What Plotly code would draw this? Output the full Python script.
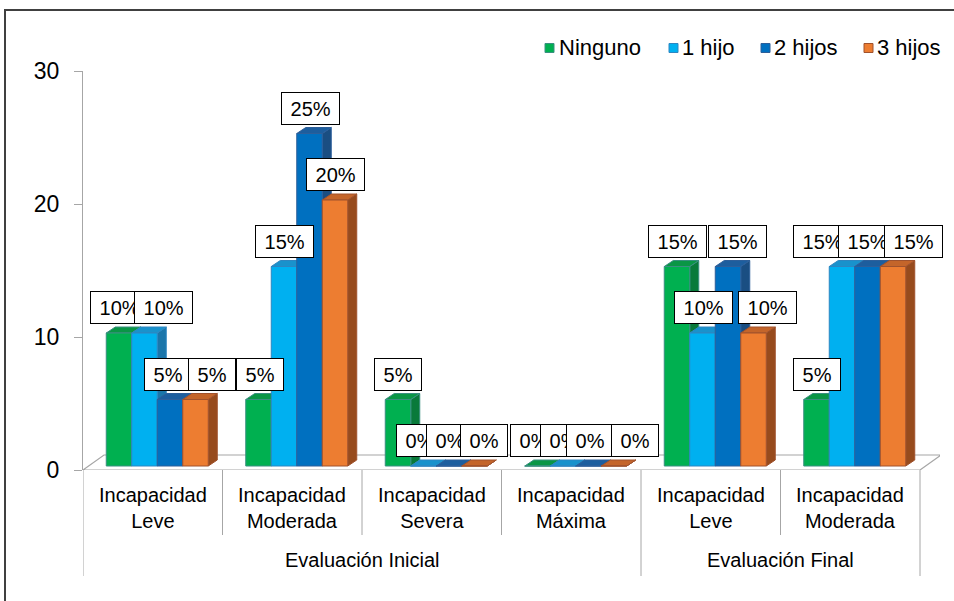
import plotly.graph_objects as go

# ---------------------------------------------------------------- data
stage_labels = ["Evaluación Inicial", "Evaluación Final"]
stage_spans = [(0, 3), (4, 5)]          # first / last level index of each stage
level_labels = [
    "Incapacidad<br>Leve", "Incapacidad<br>Moderada", "Incapacidad<br>Severa",
    "Incapacidad<br>Máxima", "Incapacidad<br>Leve", "Incapacidad<br>Moderada",
]
series_names = ["Ninguno", "1 hijo", "2 hijos", "3 hijos"]
ninguno = [10, 5, 5, 0, 15, 5]
un_hijo = [10, 15, 0, 0, 10, 15]
dos_hijos = [5, 25, 0, 0, 15, 15]
tres_hijos = [5, 20, 0, 0, 10, 15]
y_tick_values = [0, 10, 20, 30]

series_values = [ninguno, un_hijo, dos_hijos, tres_hijos]

# ---------------------------------------------------------------- styling
W, H = 954, 601
PLOT_L, PLOT_R, PLOT_T, PLOT_B = 83, 940, 71, 470
CAT_PX = 139.5                      # width of one category on screen
Y_MAX = 30
PX_PER_Y = (PLOT_B - PLOT_T) / Y_MAX
X_MIN = -0.5
X_MAX = X_MIN + (PLOT_R - PLOT_L) / CAT_PX

FONT = "Liberation Sans, Arial, sans-serif"
AXIS_GREY = "#A6A6A6"

# front / top / side / edge colours per series
face_colors = [
    ("#00B050", "#0A9646", "#097A3A", "#3A8F80"),
    ("#00B0F0", "#1992CC", "#1B76AA", "#2E86C1"),
    ("#0070C0", "#1D5E9E", "#1A4E82", "#2D5F9A"),
    ("#ED7D31", "#C4652A", "#974B1D", "#A0522D"),
]

# pseudo-3D geometry, expressed in axis units
BAR_W = 25.5 / CAT_PX
GROUP_SHIFT = 4.5 / CAT_PX
BASE = 4 / PX_PER_Y
DX = 9 / CAT_PX
DY = 6 / PX_PER_Y
FLOOR_DX = 21 / CAT_PX
FLOOR_DY = 15 / PX_PER_Y

# small horizontal nudges (px) applied to the value boxes
label_nudge = [
    [0, 19, -2, 16],
    [1, 0, 1, 0],
    [0, -4, 1, 9],
    [-4, 1, 1, 21],
    [0, 1, 9, 14],
    [0, -20, 0, 20],
]


def px_x(px):
    return (px - PLOT_L) / (PLOT_R - PLOT_L)


def px_y(py):
    return (PLOT_B - py) / (PLOT_B - PLOT_T)


n_levels = len(level_labels)
fig = go.Figure()

# floor of the 3D plot
n_last = n_levels - 0.5
fig.add_trace(go.Scatter(
    x=[X_MIN, n_last, n_last + FLOOR_DX, X_MIN + FLOOR_DX, X_MIN],
    y=[0, 0, FLOOR_DY, FLOOR_DY, 0],
    mode="lines", fill="toself", fillcolor="white",
    line=dict(color=AXIS_GREY, width=1.2), hoverinfo="skip", showlegend=False,
))


def bar_left(i, j):
    return i + GROUP_SHIFT + (j - 2) * BAR_W


# columns: for each series draw side, top and front faces (left to right so
# that each column hides the side of its left neighbour)
for j, (name, vals) in enumerate(zip(series_names, series_values)):
    front_c, top_c, side_c, edge_c = face_colors[j]
    fx, fy, tx, ty, sx, sy = [], [], [], [], [], []
    for i, v in enumerate(vals):
        x0 = bar_left(i, j)
        x1 = x0 + BAR_W
        y0 = BASE
        y1 = BASE + v
        sx += [x1, x1 + DX, x1 + DX, x1, x1, None]
        sy += [y0, y0 + DY, y1 + DY, y1, y0, None]
        tx += [x0, x1, x1 + DX, x0 + DX, x0, None]
        ty += [y1, y1, y1 + DY, y1 + DY, y1, None]
        fx += [x0, x1, x1, x0, x0, None]
        fy += [y0, y0, y1, y1, y0, None]
    for xs, ys, col in ((sx, sy, side_c), (tx, ty, top_c), (fx, fy, front_c)):
        fig.add_trace(go.Scatter(
            x=xs, y=ys, mode="lines", fill="toself", fillcolor=col,
            line=dict(color=edge_c, width=1), name=name,
            hoverinfo="skip", showlegend=False,
        ))

annotations = []
shapes = []

# value boxes
for i in range(n_levels):
    for j, vals in enumerate(series_values):
        v = vals[i]
        annotations.append(dict(
            x=bar_left(i, j) + BAR_W / 2, y=BASE + v, xref="x", yref="y",
            text="\u00a0%d%%\u00a0" % v, showarrow=False,
            xanchor="center", yanchor="bottom", yshift=9,
            xshift=label_nudge[i][j], height=25,
            font=dict(family=FONT, size=20, color="black"),
            bgcolor="white", bordercolor="black", borderwidth=1, borderpad=3,
        ))

# category labels (two levels)
for i, lab in enumerate(level_labels):
    annotations.append(dict(
        x=i, y=px_y(508), xref="x", yref="paper", text=lab, showarrow=False,
        xanchor="center", yanchor="middle",
        font=dict(family=FONT, size=20, color="black"),
    ))
for lab, (a, b) in zip(stage_labels, stage_spans):
    annotations.append(dict(
        x=(a + b) / 2, y=px_y(560), xref="x", yref="paper", text=lab,
        showarrow=False, xanchor="center", yanchor="middle",
        font=dict(family=FONT, size=20, color="black"),
    ))

# separators between category labels
outer_edges = {stage_spans[0][0] - 0.5} | {b + 0.5 for _, b in stage_spans}
for k in range(n_levels + 1):
    xe = k - 0.5
    bottom = 576 if xe in outer_edges else 535
    shapes.append(dict(
        type="line", xref="x", yref="paper", x0=xe, x1=xe,
        y0=0, y1=px_y(bottom), line=dict(color=AXIS_GREY, width=1),
    ))

# legend
legend_square_x = [545, 669, 761, 864]
legend_text_x = [557, 680, 772, 875]
LEG_Y = 48
for j, name in enumerate(series_names):
    front_c, _, _, edge_c = face_colors[j]
    sx0 = legend_square_x[j]
    shapes.append(dict(
        type="rect", xref="paper", yref="paper",
        x0=px_x(sx0), x1=px_x(sx0 + 9), y0=px_y(LEG_Y + 4.5), y1=px_y(LEG_Y - 4.5),
        fillcolor=front_c, line=dict(color=edge_c, width=1),
    ))
    annotations.append(dict(
        x=px_x(legend_text_x[j]), y=px_y(LEG_Y), xref="paper", yref="paper",
        text=name, showarrow=False, xanchor="left", yanchor="middle",
        font=dict(family=FONT, size=22, color="black"),
    ))

# outer chart frame
shapes.append(dict(
    type="rect", xref="paper", yref="paper",
    x0=px_x(5), x1=px_x(W + 20), y0=px_y(H + 20), y1=px_y(10),
    line=dict(color="#404040", width=2), fillcolor="rgba(0,0,0,0)",
))

fig.update_layout(
    width=W, height=H,
    margin=dict(l=PLOT_L, r=W - PLOT_R, t=PLOT_T, b=H - PLOT_B, pad=0),
    paper_bgcolor="white", plot_bgcolor="white",
    showlegend=False,
    annotations=annotations, shapes=shapes,
    xaxis=dict(range=[X_MIN, X_MAX], showticklabels=False, showgrid=False,
               zeroline=False, showline=False, ticks="", fixedrange=True),
    yaxis=dict(range=[0, Y_MAX], tickvals=y_tick_values, showgrid=False,
               zeroline=False, showline=True, linecolor=AXIS_GREY, linewidth=1.2,
               ticks="outside", ticklen=8, tickcolor=AXIS_GREY, tickwidth=1.2,
               ticklabelstandoff=10,
               tickfont=dict(family=FONT, size=23, color="black"), fixedrange=True),
)

fig.write_html("out.html")
